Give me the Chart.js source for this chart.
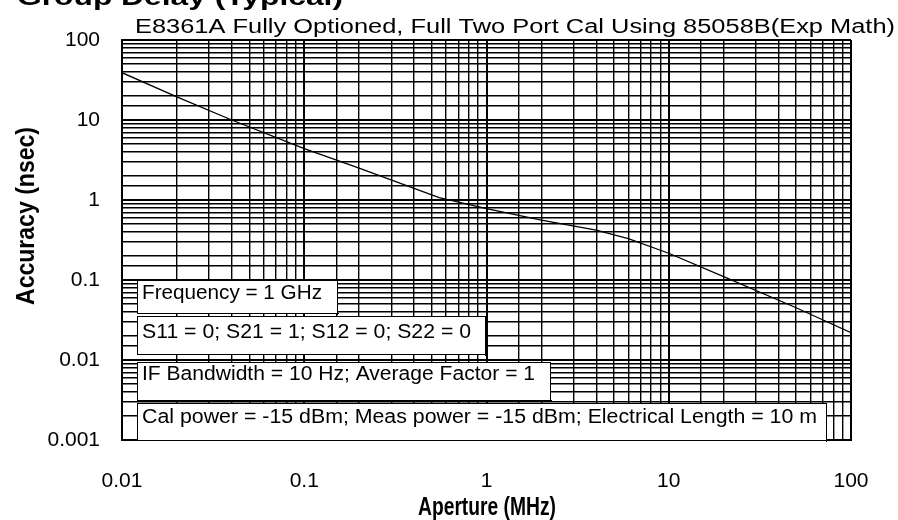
<!DOCTYPE html>
<html>
<head>
<meta charset="utf-8">
<title>Group Delay (Typical)</title>
<script src="https://cdn.jsdelivr.net/npm/chart.js@4/dist/chart.umd.min.js"></script>
<style>
  html, body { margin: 0; padding: 0; background: #fff; }
  #wrap { width: 898px; height: 520px; }
</style>
</head>
<body>
<div id="wrap"><canvas id="chart" width="898" height="520"></canvas></div>
<script>
// Group delay accuracy vs. aperture, log/log.
const APERTURE_MHZ = [0.01, 0.02, 0.04, 0.1, 0.2, 0.55, 1, 2, 4, 6, 10, 20, 50, 100];
const ACCURACY_NSEC = [39, 19.5, 10, 4.4, 2.5, 1.07, 0.78, 0.56, 0.42, 0.33, 0.216, 0.11, 0.045, 0.022];

const X_TICKS = [0.01, 0.1, 1, 10, 100];
const X_TICK_LABELS = ["0.01", "0.1", "1", "10", "100"];
const Y_TICKS = [0.001, 0.01, 0.1, 1, 10, 100];
const Y_TICK_LABELS = ["0.001", "0.01", "0.1", "1", "10", "100"];

const TITLE = "Group Delay (Typical)";
const SUBTITLE = "E8361A Fully Optioned, Full Two Port Cal Using 85058B(Exp Math)";
const X_TITLE = "Aperture (MHz)";
const Y_TITLE = "Accuracy (nsec)";
const CONDITIONS = [
  "Frequency = 1 GHz",
  "S11 = 0; S21 = 1; S12 = 0; S22 = 0",
  "IF Bandwidth = 10 Hz; Average Factor = 1",
  "Cal power = -15 dBm; Meas power = -15 dBm; Electrical Length = 10 m",
];

function tickIndex(values, v) {
  return values.findIndex((t) => Math.abs(t - v) / t < 1e-6);
}

// only decades get a label, the 2..9 ticks just keep their grid line
function decadeLabel(values, labels) {
  return (v) => {
    const i = tickIndex(values, v);
    return i >= 0 ? labels[i] : "";
  };
}

// decade lines a bit heavier than the minor ones
function gridWidth(values) {
  return (c) => (c.tick && tickIndex(values, c.tick.value) >= 0 ? 2 : 1.4);
}

// draws text squeezed/stretched to a given width
function fitText(ctx, text, x, y, width) {
  const w = ctx.measureText(text).width;
  ctx.save();
  ctx.translate(x, y);
  ctx.scale(width / w, 1);
  ctx.fillText(text, 0, 0);
  ctx.restore();
}

// box geometry for the test-condition notes (left, top, right, bottom, baseline, text width)
const NOTE_BOXES = [
  [137, 280, 337, 313, 299, 180],
  [137, 316, 485, 354, 338, 329],
  [137, 362, 550, 400, 380, 393],
  [137, 403, 826, 440, 423, 675],
];

const annotations = {
  id: "annotations",
  afterDraw(chart) {
    const ctx = chart.ctx;
    ctx.save();
    ctx.fillStyle = "#000";
    ctx.textAlign = "left";
    ctx.textBaseline = "alphabetic";

    // heading, mostly cut off by the top edge
    ctx.font = "bold 24px Arial, 'Liberation Sans', sans-serif";
    fitText(ctx, TITLE, 17, 5, 326);

    ctx.font = "20px Arial, 'Liberation Sans', sans-serif";
    fitText(ctx, SUBTITLE, 135, 33, 760);

    // axis titles
    ctx.font = "bold 26px Arial, 'Liberation Sans', sans-serif";
    const xw = 138;
    fitText(ctx, X_TITLE, 487 - xw / 2, 515, xw);
    ctx.save();
    ctx.translate(34, 216);
    ctx.rotate(-Math.PI / 2);
    const yw = 178;
    fitText(ctx, Y_TITLE, -yw / 2, 0, yw);
    ctx.restore();

    // test conditions
    ctx.font = "20px Arial, 'Liberation Sans', sans-serif";
    NOTE_BOXES.forEach(([l, t, r, b, base, tw], i) => {
      ctx.fillStyle = "#fff";
      ctx.fillRect(l, t, r - l, b - t);
      ctx.strokeStyle = "#000";
      ctx.lineWidth = 1;
      ctx.strokeRect(l + 0.5, t + 0.5, r - l, b - t);
      ctx.fillStyle = "#000";
      ctx.fillRect(l + 1, b, r - l + 1, 1);
      ctx.fillRect(r, t + 1, 1, b - t + 1);
      fitText(ctx, CONDITIONS[i], l + 5, base, tw);
    });
    ctx.restore();
  },
};

new Chart(document.getElementById("chart"), {
  type: "line",
  data: {
    datasets: [
      {
        data: APERTURE_MHZ.map((x, i) => ({ x, y: ACCURACY_NSEC[i] })),
        borderColor: "#000",
        borderWidth: 1.3,
        pointRadius: 0,
        tension: 0,
      },
    ],
  },
  options: {
    responsive: false,
    animation: false,
    layout: { padding: { top: 40, right: 47, bottom: 0, left: 0 } },
    plugins: { legend: { display: false }, tooltip: { enabled: false } },
    scales: {
      x: {
        type: "logarithmic",
        min: 0.01,
        max: 100,
        afterFit: (s) => { s.height = 80; },
        grid: { color: "#000", lineWidth: gridWidth(X_TICKS), drawTicks: false },
        border: { color: "#000", width: 2 },
        ticks: {
          autoSkip: false,
          maxRotation: 0,
          padding: 29,
          color: "#000",
          font: { family: "Arial, 'Liberation Sans', sans-serif", size: 21 },
          callback: decadeLabel(X_TICKS, X_TICK_LABELS),
        },
      },
      y: {
        type: "logarithmic",
        min: 0.001,
        max: 100,
        afterFit: (s) => { s.width = 122; },
        grid: { color: "#000", lineWidth: gridWidth(Y_TICKS), drawTicks: false },
        border: { color: "#000", width: 2 },
        ticks: {
          autoSkip: false,
          padding: 22,
          color: "#000",
          font: { family: "Arial, 'Liberation Sans', sans-serif", size: 21 },
          callback: decadeLabel(Y_TICKS, Y_TICK_LABELS),
        },
      },
    },
  },
  plugins: [annotations],
});
</script>
</body>
</html>
